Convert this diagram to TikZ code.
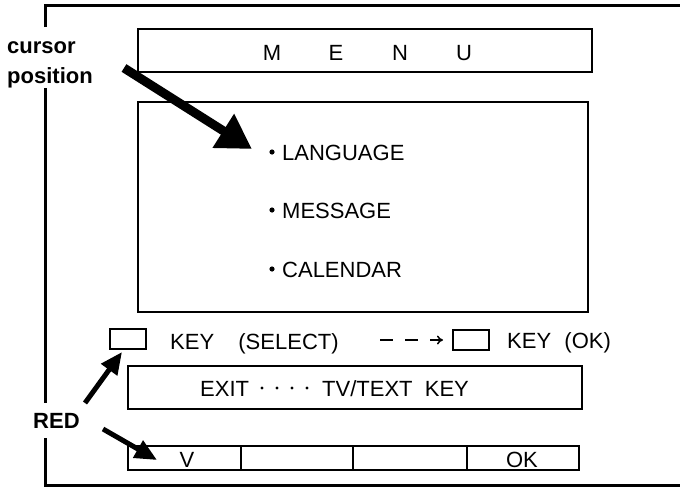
\documentclass[tikz,border=0pt]{standalone}
\usepackage{fontspec}
\setmainfont{Liberation Sans}
\usetikzlibrary{arrows.meta}
\begin{document}
\begin{tikzpicture}[x=1pt,y=-1pt,
	box/.style={draw,line width=1.4pt},
	keybox/.style={draw,line width=1.3pt,minimum width=36pt,minimum height=20pt,inner sep=0pt},
	txt/.style={font=\fontsize{22}{26}\selectfont,inner sep=0pt,anchor=base west},
	lbl/.style={font=\fontsize{22}{26}\selectfont\bfseries,inner sep=0pt,anchor=base west},
	bigarrow/.style={line width=9pt,-{Triangle[length=34pt,width=38pt]}},
	redarrow/.style={line width=5pt,-{Triangle[length=22pt,width=19pt]}}]
	\useasboundingbox (0,0) rectangle (680,490);
	% screen frame, broken where the labels sit
	\draw[line width=3pt] (45,27) -- (45,5) -- (680,5);
	\draw[line width=3pt] (45,88) -- (45,403);
	\draw[line width=3pt] (45,438) -- (45,485) -- (680,485);
	% menu title
	\draw[box] (138,29) rectangle (592,72);
	\foreach \l [count=\i from 0] in {M,E,N,U}
		\node[font=\fontsize{22}{26}\selectfont,inner sep=0pt,anchor=base] (t\i) at (272+64*\i,60) {\l};
	% menu items
	\draw[box] (138,102) rectangle (588,312);
	\foreach \y/\item/\nm in {160/LANGUAGE/lang,218/MESSAGE/mess,277/CALENDAR/cal}{
		\fill (272,\y-8) circle (2.6pt);
		\node[txt] (\nm) at (282,\y) {\item};
	}
	\node[lbl] (cur1) at (7,53) {cursor};
	\node[lbl] (cur2) at (7,83) {position};
	\coordinate (curtail) at (124,68);
	\coordinate (curtip) at (252,149);
	\draw[bigarrow] (curtail) -- (curtip);
	% key row
	\node[keybox] (redkey) at (128,339) {};
	\node[txt] (sel) at (170,349) {KEY\hspace{1.1em}(SELECT)};
	\node[keybox] (okkey) at (471,340) {};
	\node[txt] (ok) at (507,348) {KEY\hspace{0.6em}(OK)};
	\coordinate (dashA) at (380,340);
	\coordinate (dashB) at (443,340);
	\draw[line width=1.5pt,dash pattern=on 13pt off 12pt,-{To[length=6pt,width=9pt]}] (dashA) -- (dashB);
	% exit line
	\draw[box] (128,366) rectangle (582,409);
	\node[txt] (exit) at (200,396) {EXIT};
	\foreach \x in {262,277,292,307}
		\fill (\x,388) circle (1.6pt);
	\node[txt] (tvkey) at (322,396) {TV/TEXT\ \ KEY};
	% soft keys
	\draw[box] (128,446) rectangle (579,470);
	\foreach \x in {241,353,467}
		\draw[box] (\x,446) -- (\x,470);
	\node[font=\fontsize{22}{26}\selectfont,inner sep=0pt,anchor=base] (vkey) at (187,467) {V};
	\node[font=\fontsize{22}{26}\selectfont,inner sep=0pt,anchor=base] (okbtn) at (522,467) {OK};
	% red key
	\node[lbl] (red) at (33,428) {RED};
	\coordinate (r1) at (85,403);
	\coordinate (r1tip) at (122,352);
	\coordinate (r2) at (103,429);
	\coordinate (r2tip) at (157,460);
	\draw[redarrow] (r1) -- (r1tip);
	\draw[redarrow] (r2) -- (r2tip);
\end{tikzpicture}
\end{document}
